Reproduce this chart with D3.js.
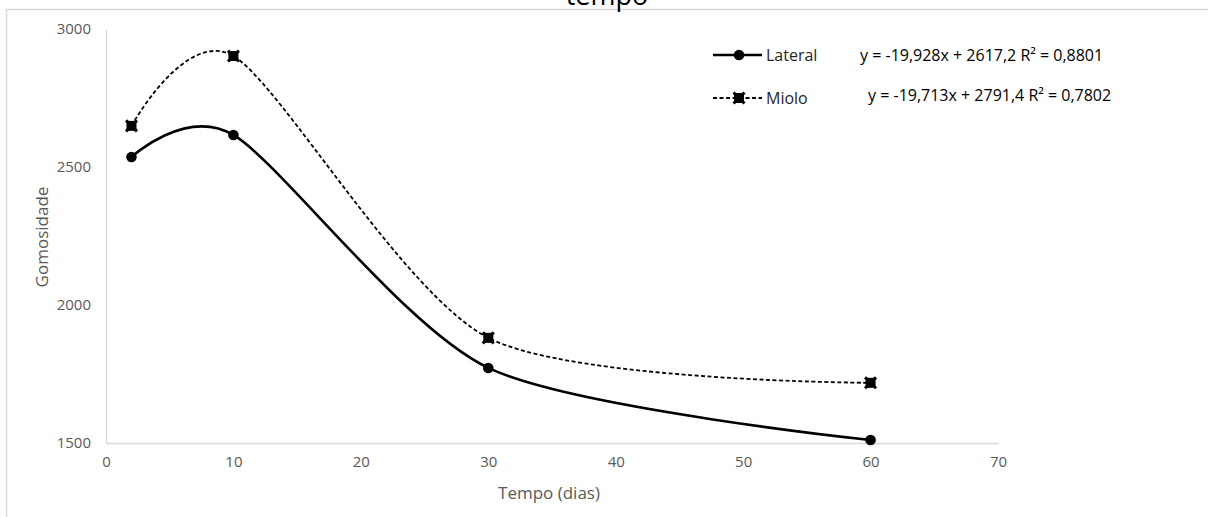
<!DOCTYPE html>
<html>
<head>
<meta charset="utf-8">
<script src="https://cdn.jsdelivr.net/npm/d3@7"></script>
<style>
  html, body { margin: 0; padding: 0; background: #fff; }
  svg text { font-family: "Open Sans", "Noto Sans", sans-serif; }
</style>
</head>
<body>
<svg id="chart" width="1208" height="517"></svg>
<script>
// data
var dias = [2, 10, 30, 60];
var lateral = [2536, 2616, 1772, 1511];
var miolo = [2649, 2902, 1881, 1718];
var seriesNames = ['Lateral', 'Miolo'];
var equations = ['y = -19,928x + 2617,2 R\u00b2 = 0,8801', 'y = -19,713x + 2791,4 R\u00b2 = 0,7802'];
var xTicks = [0, 10, 20, 30, 40, 50, 60, 70];
var yTicks = [1500, 2000, 2500, 3000];

var svg = d3.select('#chart');
var axisColor = '#d9d9d9';
var labelColor = '#595959';

var x = d3.scaleLinear().domain([0, 70]).range([106, 998]);
var y = d3.scaleLinear().domain([1500, 3000]).range([443, 29]);

// outer frame (cropped chart area)
svg.append('line').attr('x1', 6).attr('x2', 1208).attr('y1', 9.5).attr('y2', 9.5)
    .attr('stroke', axisColor).attr('stroke-width', 1.5);
svg.append('line').attr('x1', 6.5).attr('x2', 6.5).attr('y1', 9).attr('y2', 517)
    .attr('stroke', axisColor).attr('stroke-width', 1.5);

// title, mostly cut off at the top
svg.append('text').attr('x', 607).attr('y', 5).attr('text-anchor', 'middle')
    .attr('font-size', 27).attr('fill', '#000').text('tempo');

// axes
var xAxis = svg.append('g').attr('transform', 'translate(0,' + y(1500) + ')')
    .call(d3.axisBottom(x).tickValues(xTicks).tickSize(0).tickPadding(13));
var yAxis = svg.append('g').attr('transform', 'translate(' + x(0) + ',0)')
    .call(d3.axisLeft(y).tickValues(yTicks).tickFormat(d3.format('d')).tickSize(0).tickPadding(15));
[xAxis, yAxis].forEach(function (g) {
    g.select('.domain').attr('stroke', axisColor).attr('stroke-width', 1.3);
    g.selectAll('text').attr('fill', labelColor).attr('font-size', 15)
        .style('font-family', '"Open Sans", sans-serif');
});

svg.append('text').attr('x', 549).attr('y', 499).attr('text-anchor', 'middle')
    .attr('font-size', 17).attr('fill', labelColor).text('Tempo (dias)');
svg.append('text').attr('transform', 'translate(48,237) rotate(-90)').attr('text-anchor', 'middle')
    .attr('font-size', 17).attr('fill', labelColor).text('Gomosidade');

// smoothed lines like excel
var line = d3.line()
    .x(function (d) { return x(d[0]); })
    .y(function (d) { return y(d[1]); })
    .curve(d3.curveCardinal.tension(0.2));

var latPts = dias.map(function (d, i) { return [d, lateral[i]]; });
var mioPts = dias.map(function (d, i) { return [d, miolo[i]]; });

svg.append('path').datum(mioPts).attr('d', line).attr('fill', 'none')
    .attr('stroke', '#000').attr('stroke-width', 1.8).attr('stroke-dasharray', '4,2.5');
svg.append('path').datum(latPts).attr('d', line).attr('fill', 'none')
    .attr('stroke', '#000').attr('stroke-width', 2.6);

function circleMarker(g, cx, cy) {
    g.append('circle').attr('cx', cx).attr('cy', cy).attr('r', 5.3).attr('fill', '#000');
}
function xMarker(g, cx, cy) {
    g.append('rect').attr('x', cx - 5).attr('y', cy - 5).attr('width', 10).attr('height', 10).attr('fill', '#000');
    g.append('path').attr('transform', 'translate(' + cx + ',' + cy + ')')
        .attr('d', d3.symbol().type(d3.symbolX).size(80)()).attr('stroke', '#000').attr('stroke-width', 3);
}

var marks = svg.append('g');
latPts.forEach(function (p) { circleMarker(marks, x(p[0]), y(p[1])); });
mioPts.forEach(function (p) { xMarker(marks, x(p[0]), y(p[1])); });

// legend
var legend = svg.append('g');
var legY = [55, 98];
legend.append('line').attr('x1', 713).attr('x2', 762).attr('y1', legY[0]).attr('y2', legY[0])
    .attr('stroke', '#000').attr('stroke-width', 2.6);
circleMarker(legend, 739, legY[0]);
legend.append('line').attr('x1', 713).attr('x2', 762).attr('y1', legY[1]).attr('y2', legY[1])
    .attr('stroke', '#000').attr('stroke-width', 1.8).attr('stroke-dasharray', '4,2.5');
xMarker(legend, 739, legY[1]);

seriesNames.forEach(function (name, i) {
    legend.append('text').attr('x', 766).attr('y', legY[i]).attr('dy', '0.35em')
        .attr('font-size', 16).attr('fill', '#262626').text(name);
});

// trendline equations
var eqX = [860, 868];
var eqY = [55, 95];
equations.forEach(function (eq, i) {
    svg.append('text').attr('x', eqX[i]).attr('y', eqY[i]).attr('dy', '0.35em')
        .attr('font-size', 16).attr('fill', '#000').text(eq);
});
</script>
</body>
</html>
